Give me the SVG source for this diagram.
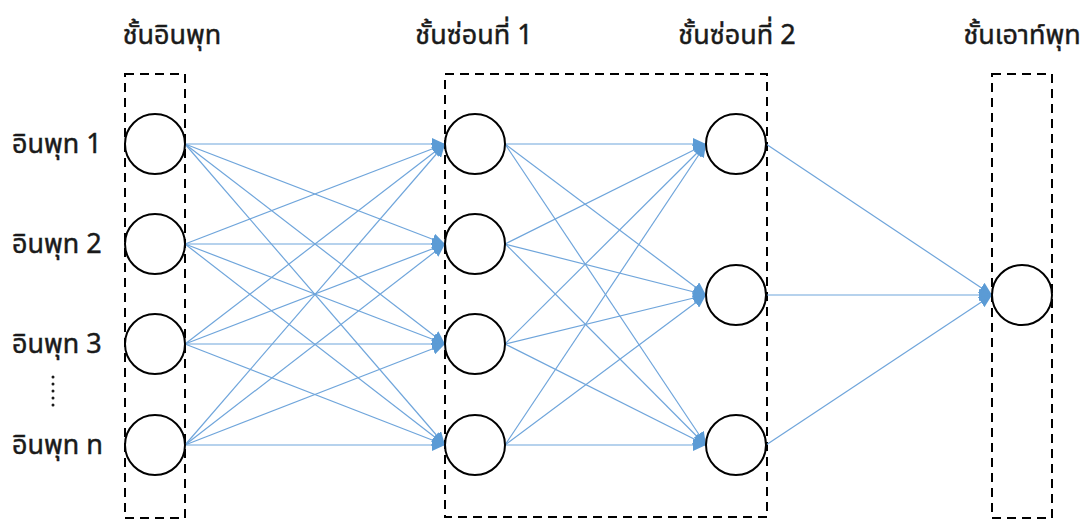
<svg xmlns="http://www.w3.org/2000/svg" width="1089" height="519" viewBox="0 0 1089 519">
<style>
.lbl{font-family:"Noto Sans Thai","Tahoma","Noto Sans","DejaVu Sans",sans-serif;font-size:27px;font-weight:normal;fill:#1a1a1a;stroke:#1a1a1a;stroke-width:0.45}
.box{fill:none;stroke:#000;stroke-width:2;stroke-dasharray:9 6}
.node{fill:#fff;stroke:#000;stroke-width:2}
.c line{stroke:#6FA5DB;stroke-width:1.2;marker-end:url(#ah)}
</style>
<defs>
<marker id="ah" markerUnits="userSpaceOnUse" markerWidth="13" markerHeight="12" refX="13" refY="6" orient="auto">
<path d="M0,0 L13,6 L0,12 Z" fill="#5B9BD5"/>
</marker>
</defs>
<rect width="1089" height="519" fill="#fff"/>
<g id="frames">
<rect class="box" x="125" y="74" width="60" height="444"/>
<rect class="box" x="445" y="74" width="322" height="443"/>
<rect class="box" x="992" y="74" width="60" height="444"/>
</g>
<g id="titles">
<text class="lbl" x="172" y="44" text-anchor="middle">ชั้นอินพุท</text>
<text class="lbl" x="474" y="44" text-anchor="middle">ชั้นซ่อนที่ 1</text>
<text class="lbl" x="737" y="44" text-anchor="middle">ชั้นซ่อนที่ 2</text>
<text class="lbl" x="1022" y="44" text-anchor="middle">ชั้นเอาท์พุท</text>
</g>
<g id="input-labels">
<text class="lbl" x="12" y="153">อินพุท 1</text>
<text class="lbl" x="12" y="253">อินพุท 2</text>
<text class="lbl" x="12" y="353">อินพุท 3</text>
<text class="lbl" x="12" y="454">อินพุท n</text>
<line x1="53" y1="377" x2="53" y2="406" stroke="#1a1a1a" stroke-width="3" stroke-linecap="round" stroke-dasharray="0 7"/>
</g>
<g id="connectors" class="c">
<line x1="185" y1="144" x2="445" y2="144"/><line x1="185" y1="144" x2="445" y2="244"/><line x1="185" y1="144" x2="445" y2="344"/><line x1="185" y1="144" x2="445" y2="445"/>
<line x1="185" y1="244" x2="445" y2="144"/><line x1="185" y1="244" x2="445" y2="244"/><line x1="185" y1="244" x2="445" y2="344"/><line x1="185" y1="244" x2="445" y2="445"/>
<line x1="185" y1="344" x2="445" y2="144"/><line x1="185" y1="344" x2="445" y2="244"/><line x1="185" y1="344" x2="445" y2="344"/><line x1="185" y1="344" x2="445" y2="445"/>
<line x1="185" y1="445" x2="445" y2="144"/><line x1="185" y1="445" x2="445" y2="244"/><line x1="185" y1="445" x2="445" y2="344"/><line x1="185" y1="445" x2="445" y2="445"/>
<line x1="505" y1="144" x2="706" y2="144"/><line x1="505" y1="144" x2="706" y2="295"/><line x1="505" y1="144" x2="706" y2="445"/>
<line x1="505" y1="244" x2="706" y2="144"/><line x1="505" y1="244" x2="706" y2="295"/><line x1="505" y1="243.5" x2="706" y2="445.5"/>
<line x1="505" y1="344" x2="706" y2="144"/><line x1="505" y1="344" x2="706" y2="295"/><line x1="505" y1="344" x2="706" y2="445"/>
<line x1="505" y1="445" x2="706" y2="144"/><line x1="505" y1="445" x2="706" y2="295"/><line x1="505" y1="445" x2="706" y2="445"/>
<line x1="766" y1="144" x2="992" y2="295"/><line x1="766" y1="295" x2="992" y2="295"/><line x1="766" y1="445" x2="992" y2="295"/>
</g>
<g id="in1"><circle class="node" cx="155" cy="144" r="30"/></g>
<g id="in2"><circle class="node" cx="155" cy="244" r="30"/></g>
<g id="in3"><circle class="node" cx="155" cy="344" r="30"/></g>
<g id="inn"><circle class="node" cx="155" cy="445" r="30"/></g>
<g id="h1a"><circle class="node" cx="475" cy="144" r="30"/></g>
<g id="h1b"><circle class="node" cx="475" cy="244" r="30"/></g>
<g id="h1c"><circle class="node" cx="475" cy="344" r="30"/></g>
<g id="h1d"><circle class="node" cx="475" cy="445" r="30"/></g>
<g id="h2a"><circle class="node" cx="736" cy="144" r="30"/></g>
<g id="h2b"><circle class="node" cx="736" cy="295" r="30"/></g>
<g id="h2c"><circle class="node" cx="736" cy="445" r="30"/></g>
<g id="out"><circle class="node" cx="1022" cy="295" r="30"/></g>
</svg>
